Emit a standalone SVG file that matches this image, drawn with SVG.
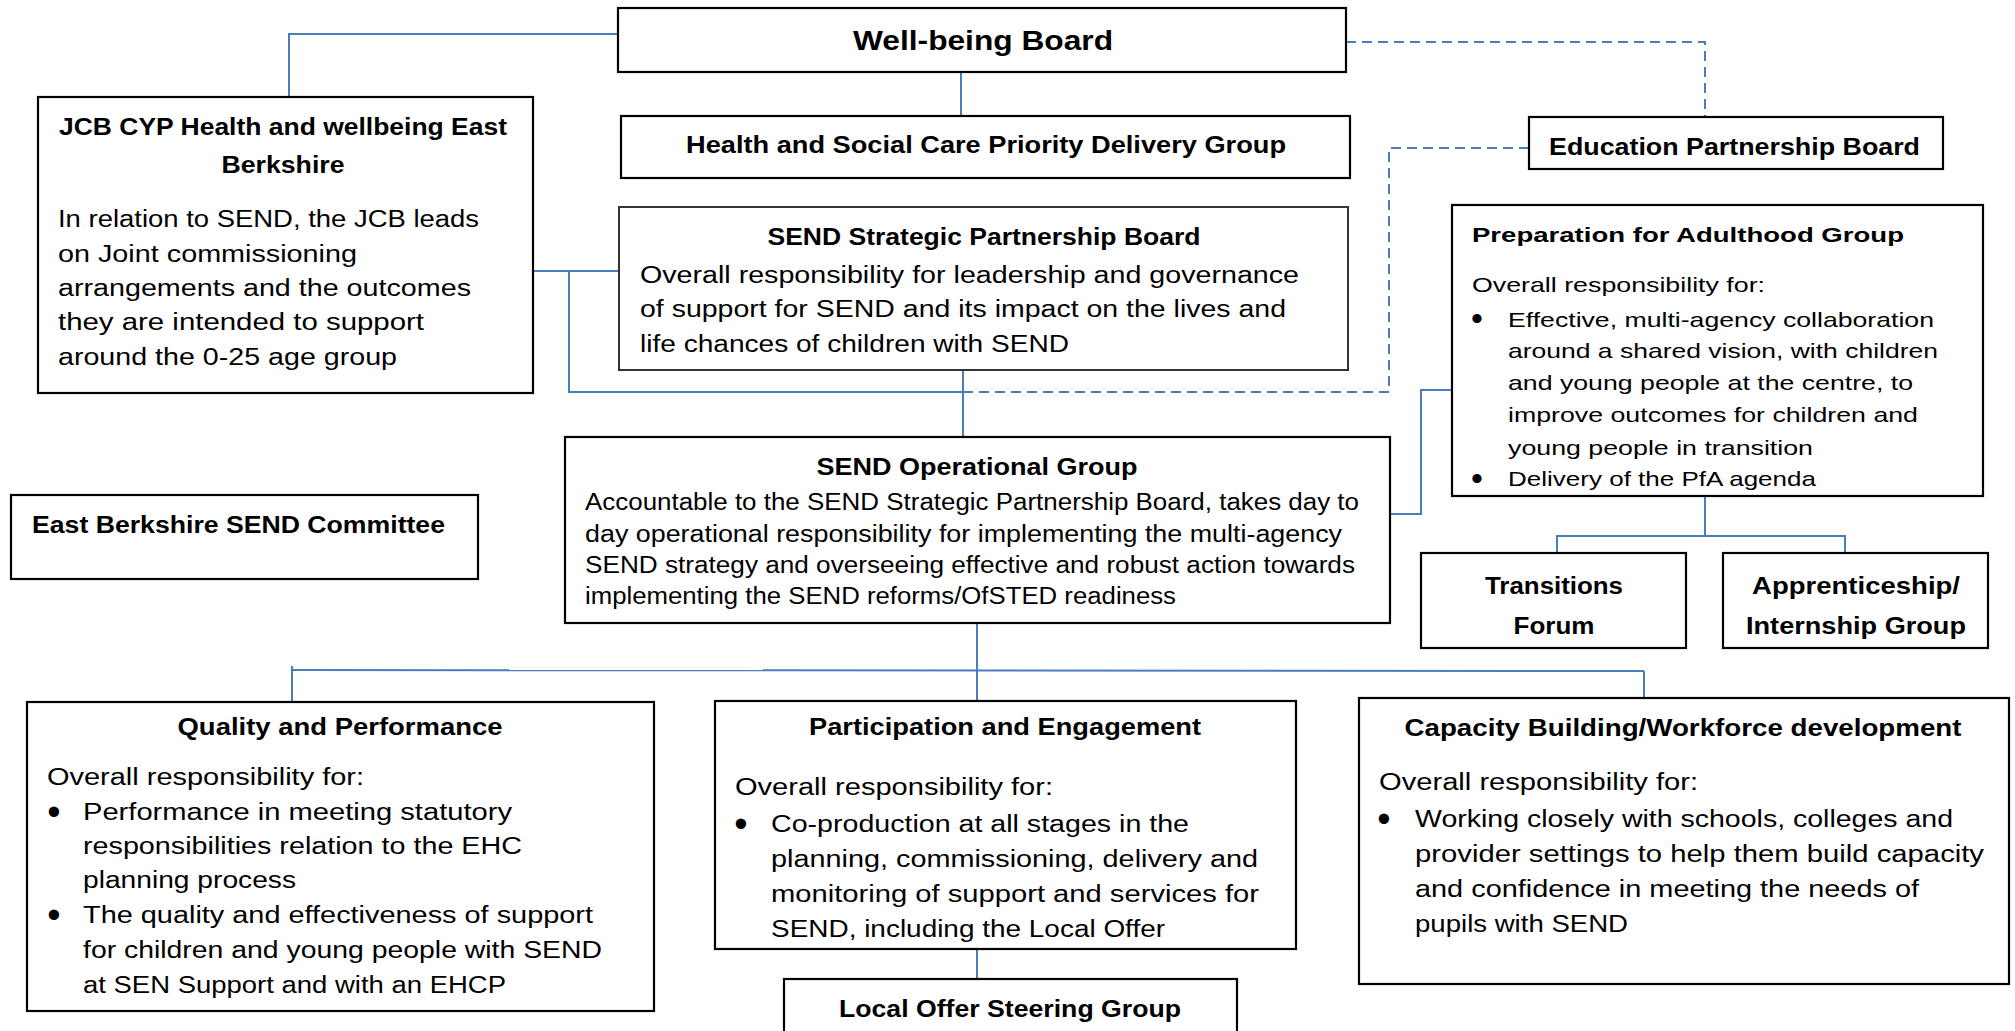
<svg xmlns="http://www.w3.org/2000/svg" width="2015" height="1031" viewBox="0 0 2015 1031">
<style>
.box{fill:#fff;stroke:#000;stroke-width:2.2}
.box2{fill:#fff;stroke:#333;stroke-width:2}
.c{fill:none;stroke:#4A7EBB;stroke-width:2}
.d{fill:none;stroke:#4A7EBB;stroke-width:2;stroke-dasharray:10 6}
text{font-family:"Liberation Sans",Arial,sans-serif;fill:#000}
.t{font-size:23px;font-weight:bold;text-anchor:middle}
.tl{font-size:23px;font-weight:bold}
.b{font-size:23px}
.p{font-size:21px}
.pt{font-size:21px;font-weight:bold}
.big{font-size:28px;font-weight:bold;text-anchor:middle}
.bu{font-size:38px;text-anchor:middle}
.bup{font-size:34px;text-anchor:middle}
</style>
<rect width="2015" height="1031" fill="#fff"/>
<g id="connectors">
<polyline class="c" points="618,34 289,34 289,97"/>
<line class="c" x1="961" y1="72" x2="961" y2="116"/>
<line class="c" x1="533" y1="271" x2="619" y2="271"/>
<polyline class="c" points="569,271 569,392 963,392"/>
<line class="c" x1="963" y1="370" x2="963" y2="437"/>
<polyline class="d" points="963,392 1389,392 1389,148 1529,148"/>
<polyline class="d" points="1346,42 1705,42 1705,117"/>
<polyline class="c" points="1452,390 1421,390 1421,514 1390,514"/>
<line class="c" x1="1705" y1="496" x2="1705" y2="536"/>
<polyline class="c" points="1557,553 1557,536 1845,536 1845,553"/>
<line class="c" x1="977" y1="623" x2="977" y2="701"/>
<line class="c" x1="292" y1="670" x2="1644" y2="671"/>
<line class="c" x1="292" y1="666" x2="292" y2="702"/>
<line class="c" x1="1644" y1="671" x2="1644" y2="698"/>
<line class="c" x1="977" y1="949" x2="977" y2="979"/>
</g>
<g id="wellbeing">
<rect class="box" x="618" y="8" width="728" height="64"/>
<text class="big" x="983" y="50" textLength="260" lengthAdjust="spacingAndGlyphs">Well-being Board</text>
</g>
<g id="health">
<rect class="box" x="621" y="116" width="729" height="62"/>
<text class="t" x="986" y="153" textLength="600" lengthAdjust="spacingAndGlyphs">Health and Social Care Priority Delivery Group</text>
</g>
<g id="jcb">
<rect class="box" x="38" y="97" width="495" height="296"/>
<text class="t" x="283" y="135" textLength="448" lengthAdjust="spacingAndGlyphs">JCB CYP Health and wellbeing East</text>
<text class="t" x="283" y="173" textLength="123" lengthAdjust="spacingAndGlyphs">Berkshire</text>
<text class="b" x="58" y="227" textLength="421" lengthAdjust="spacingAndGlyphs">In relation to SEND, the JCB leads</text>
<text class="b" x="58" y="262" textLength="299" lengthAdjust="spacingAndGlyphs">on Joint commissioning</text>
<text class="b" x="58" y="296" textLength="413" lengthAdjust="spacingAndGlyphs">arrangements and the outcomes</text>
<text class="b" x="58" y="330" textLength="366" lengthAdjust="spacingAndGlyphs">they are intended to support</text>
<text class="b" x="58" y="365" textLength="339" lengthAdjust="spacingAndGlyphs">around the 0-25 age group</text>
</g>
<g id="strategic">
<rect class="box2" x="619" y="207" width="729" height="163"/>
<text class="t" x="984" y="245" textLength="433" lengthAdjust="spacingAndGlyphs">SEND Strategic Partnership Board</text>
<text class="b" x="640" y="283" textLength="659" lengthAdjust="spacingAndGlyphs">Overall responsibility for leadership and governance</text>
<text class="b" x="640" y="317" textLength="646" lengthAdjust="spacingAndGlyphs">of support for SEND and its impact on the lives and</text>
<text class="b" x="640" y="352" textLength="429" lengthAdjust="spacingAndGlyphs">life chances of children with SEND</text>
</g>
<g id="education">
<rect class="box" x="1529" y="117" width="414" height="52"/>
<text class="tl" x="1549" y="155" textLength="371" lengthAdjust="spacingAndGlyphs">Education Partnership Board</text>
</g>
<g id="pfa">
<rect class="box" x="1452" y="205" width="531" height="291"/>
<text class="pt" x="1472" y="242" textLength="432" lengthAdjust="spacingAndGlyphs">Preparation for Adulthood Group</text>
<text class="p" x="1472" y="292" textLength="293" lengthAdjust="spacingAndGlyphs">Overall responsibility for:</text>
<text class="bup" x="1477" y="330">•</text>
<text class="p" x="1508" y="327" textLength="426" lengthAdjust="spacingAndGlyphs">Effective, multi-agency collaboration</text>
<text class="p" x="1508" y="358" textLength="430" lengthAdjust="spacingAndGlyphs">around a shared vision, with children</text>
<text class="p" x="1508" y="390" textLength="405" lengthAdjust="spacingAndGlyphs">and young people at the centre, to</text>
<text class="p" x="1508" y="422" textLength="410" lengthAdjust="spacingAndGlyphs">improve outcomes for children and</text>
<text class="p" x="1508" y="455" textLength="305" lengthAdjust="spacingAndGlyphs">young people in transition</text>
<text class="bup" x="1477" y="490">•</text>
<text class="p" x="1508" y="486" textLength="308" lengthAdjust="spacingAndGlyphs">Delivery of the PfA agenda</text>
</g>
<g id="eastberks">
<rect class="box" x="11" y="495" width="467" height="84"/>
<text class="tl" x="32" y="533" textLength="413" lengthAdjust="spacingAndGlyphs">East Berkshire SEND Committee</text>
</g>
<g id="operational">
<rect class="box" x="565" y="437" width="825" height="186"/>
<text class="t" x="977" y="475" textLength="321" lengthAdjust="spacingAndGlyphs">SEND Operational Group</text>
<text class="b" x="585" y="510" textLength="774" lengthAdjust="spacingAndGlyphs">Accountable to the SEND Strategic Partnership Board, takes day to</text>
<text class="b" x="585" y="542" textLength="757" lengthAdjust="spacingAndGlyphs">day operational responsibility for implementing the multi-agency</text>
<text class="b" x="585" y="573" textLength="770" lengthAdjust="spacingAndGlyphs">SEND strategy and overseeing effective and robust action towards</text>
<text class="b" x="585" y="604" textLength="591" lengthAdjust="spacingAndGlyphs">implementing the SEND reforms/OfSTED readiness</text>
</g>
<g id="transitions">
<rect class="box" x="1421" y="553" width="265" height="95"/>
<text class="t" x="1554" y="594" textLength="138" lengthAdjust="spacingAndGlyphs">Transitions</text>
<text class="t" x="1554" y="634" textLength="81" lengthAdjust="spacingAndGlyphs">Forum</text>
</g>
<g id="apprenticeship">
<rect class="box" x="1723" y="553" width="265" height="95"/>
<text class="t" x="1856" y="594" textLength="208" lengthAdjust="spacingAndGlyphs">Apprenticeship/</text>
<text class="t" x="1856" y="634" textLength="220" lengthAdjust="spacingAndGlyphs">Internship Group</text>
</g>
<g id="quality">
<rect class="box" x="27" y="702" width="627" height="309"/>
<text class="t" x="340" y="735" textLength="325" lengthAdjust="spacingAndGlyphs">Quality and Performance</text>
<text class="b" x="47" y="785" textLength="317" lengthAdjust="spacingAndGlyphs">Overall responsibility for:</text>
<text class="bu" x="54" y="825">•</text>
<text class="b" x="83" y="820" textLength="429" lengthAdjust="spacingAndGlyphs">Performance in meeting statutory</text>
<text class="b" x="83" y="854" textLength="439" lengthAdjust="spacingAndGlyphs">responsibilities relation to the EHC</text>
<text class="b" x="83" y="888" textLength="213" lengthAdjust="spacingAndGlyphs">planning process</text>
<text class="bu" x="54" y="928">•</text>
<text class="b" x="83" y="923" textLength="510" lengthAdjust="spacingAndGlyphs">The quality and effectiveness of support</text>
<text class="b" x="83" y="958" textLength="519" lengthAdjust="spacingAndGlyphs">for children and young people with SEND</text>
<text class="b" x="83" y="993" textLength="423" lengthAdjust="spacingAndGlyphs">at SEN Support and with an EHCP</text>
</g>
<g id="participation">
<rect class="box" x="715" y="701" width="581" height="248"/>
<text class="t" x="1005" y="735" textLength="392" lengthAdjust="spacingAndGlyphs">Participation and Engagement</text>
<text class="b" x="735" y="795" textLength="318" lengthAdjust="spacingAndGlyphs">Overall responsibility for:</text>
<text class="bu" x="741" y="837">•</text>
<text class="b" x="771" y="832" textLength="418" lengthAdjust="spacingAndGlyphs">Co-production at all stages in the</text>
<text class="b" x="771" y="867" textLength="487" lengthAdjust="spacingAndGlyphs">planning, commissioning, delivery and</text>
<text class="b" x="771" y="902" textLength="488" lengthAdjust="spacingAndGlyphs">monitoring of support and services for</text>
<text class="b" x="771" y="937" textLength="394" lengthAdjust="spacingAndGlyphs">SEND, including the Local Offer</text>
</g>
<g id="capacity">
<rect class="box" x="1359" y="698" width="650" height="286"/>
<text class="t" x="1683" y="736" textLength="557" lengthAdjust="spacingAndGlyphs">Capacity Building/Workforce development</text>
<text class="b" x="1379" y="790" textLength="319" lengthAdjust="spacingAndGlyphs">Overall responsibility for:</text>
<text class="bu" x="1384" y="832">•</text>
<text class="b" x="1415" y="827" textLength="538" lengthAdjust="spacingAndGlyphs">Working closely with schools, colleges and</text>
<text class="b" x="1415" y="862" textLength="569" lengthAdjust="spacingAndGlyphs">provider settings to help them build capacity</text>
<text class="b" x="1415" y="897" textLength="504" lengthAdjust="spacingAndGlyphs">and confidence in meeting the needs of</text>
<text class="b" x="1415" y="932" textLength="213" lengthAdjust="spacingAndGlyphs">pupils with SEND</text>
</g>
<g id="localoffer">
<rect class="box" x="784" y="979" width="453" height="70"/>
<text class="t" x="1010" y="1017" textLength="342" lengthAdjust="spacingAndGlyphs">Local Offer Steering Group</text>
</g>
</svg>
